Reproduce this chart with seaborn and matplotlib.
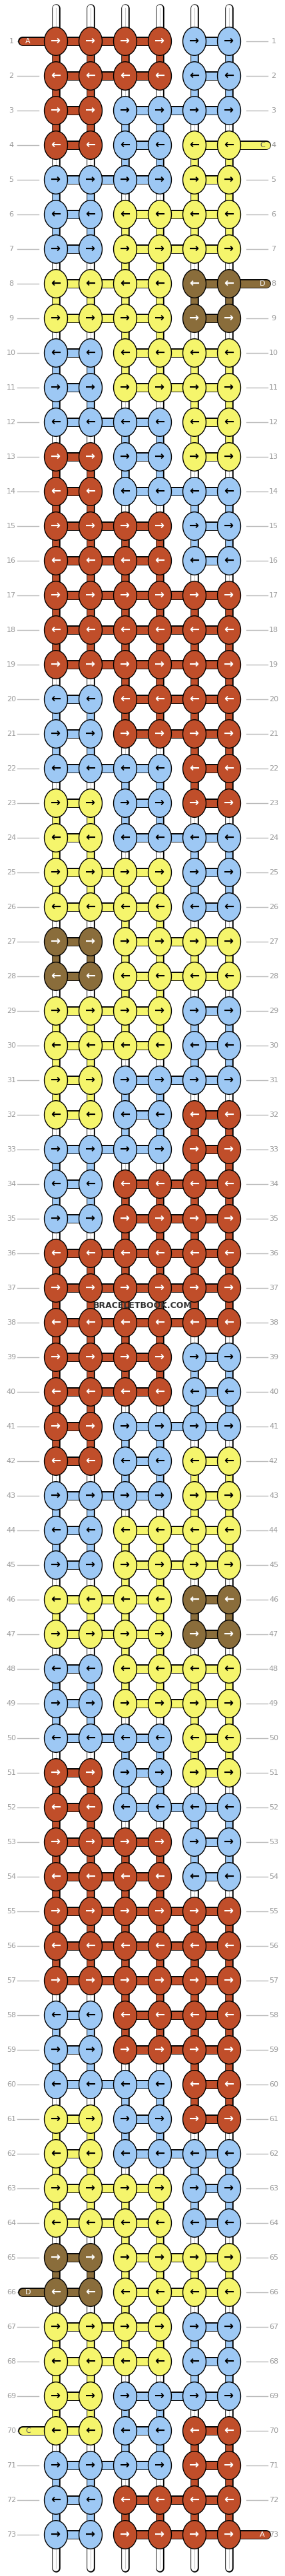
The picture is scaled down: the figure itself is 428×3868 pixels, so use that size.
import numpy as np
import pandas as pd
import matplotlib
matplotlib.use("Agg")
import matplotlib.pyplot as plt
from matplotlib.path import Path
import seaborn as sns

# knot colours per row (R red, B blue, Y yellow, N brown), rows 1..73
rows = [
    "RRRRBB", "RRRRBB", "RRBBBB", "RRBBYY", "BBBBYY", "BBYYYY", "BBYYYY", "YYYYNN",
    "YYYYNN", "BBYYYY", "BBYYYY", "BBBBYY", "RRBBYY", "RRBBBB", "RRRRBB", "RRRRBB",
    "RRRRRR", "RRRRRR", "RRRRRR", "BBRRRR", "BBRRRR", "BBBBRR", "YYBBRR", "YYBBBB",
    "YYYYBB", "YYYYBB", "NNYYYY", "NNYYYY", "YYYYBB", "YYYYBB", "YYBBBB", "YYBBRR",
    "BBBBRR", "BBRRRR", "BBRRRR", "RRRRRR", "RRRRRR", "RRRRRR", "RRRRBB", "RRRRBB",
    "RRBBBB", "RRBBYY", "BBBBYY", "BBYYYY", "BBYYYY", "YYYYNN", "YYYYNN", "BBYYYY",
    "BBYYYY", "BBBBYY", "RRBBYY", "RRBBBB", "RRRRBB", "RRRRBB", "RRRRRR", "RRRRRR",
    "RRRRRR", "BBRRRR", "BBRRRR", "BBBBRR", "YYBBRR", "YYBBBB", "YYYYBB", "YYYYBB",
    "NNYYYY", "NNYYYY", "YYYYBB", "YYYYBB", "YYBBBB", "YYBBRR", "BBBBRR", "BBRRRR",
    "BBRRRR",
]
# string ends: (row, side, colour, label)
ends = [(1, "L", "R", "A"), (4, "R", "Y", "C"), (8, "R", "N", "D"),
        (66, "L", "N", "D"), (70, "L", "Y", "C"), (73, "R", "R", "A")]

palette = {"R": "#C04E2A", "B": "#9DC8F4", "Y": "#F5F56C", "N": "#8A6D3B"}
arrow_col = {"R": "white", "B": "black", "Y": "black", "N": "white"}

recs = []
for r, s in enumerate(rows, start=1):
    for c, k in enumerate(s):
        recs.append({"row": r, "col": c, "colour": k})
df = pd.DataFrame(recs)
n_rows = len(rows)

W, H = 428, 3868
fig = plt.figure(figsize=(W / 100, H / 100), dpi=100)
ax = fig.add_axes([0, 0, 1, 1])
sp = 52.0
ax.set_xlim(-84 / sp, (W - 84) / sp)
ax.set_ylim(1 + (H - 62) / sp, 1 - 62 / sp)
ax.axis("off")

# row guide lines and numbers
for r in range(1, n_rows + 1):
    ax.plot([-58 / sp, -0.5], [r, r], color="#bbbbbb", lw=1, zorder=0)
    ax.plot([5.5, 5 + 58 / sp], [r, r], color="#bbbbbb", lw=1, zorder=0)
    ax.text(-67 / sp, r, str(r), ha="center", va="center", color="#999999", fontsize=8)
    ax.text(5 + 67 / sp, r, str(r), ha="center", va="center", color="#999999", fontsize=8)

# top and bottom stubs
for c in range(6):
    for y0, y1 in [(1 - 50 / sp, 1), (n_rows, n_rows + 50 / sp)]:
        ax.plot([c, c], [y0, y1], color="black", lw=9, solid_capstyle="round", zorder=1)
        ax.plot([c, c], [y0, y1], color="white", lw=7, solid_capstyle="round", zorder=1)
        ax.plot([c, c], [y0, y1], color="#cccccc", lw=0.8, zorder=1)

# vertical connectors between rows
for r in range(1, n_rows):
    for c in range(6):
        a, b = rows[r - 1][c], rows[r][c]
        fc = palette[a] if a == b else "white"
        ax.plot([c, c], [r, r + 1], color="black", lw=9, zorder=1)
        ax.plot([c, c], [r, r + 1], color=fc, lw=7, zorder=1)
        if a != b:
            ax.plot([c, c], [r, r + 1], color="#cccccc", lw=0.8, zorder=1)

# horizontal connectors within rows
for r, s in enumerate(rows, start=1):
    for c in range(5):
        if s[c] == s[c + 1]:
            ax.plot([c, c + 1], [r, r], color="black", lw=10, zorder=2)
            ax.plot([c, c + 1], [r, r], color=palette[s[c]], lw=8, zorder=2)

# string ends
for r, side, k, lab in ends:
    if side == "L":
        x0, x1, xt = 34 / sp - 84 / sp, 0, 42 / sp - 84 / sp
    else:
        x0, x1, xt = 5, 5 + 56 / sp, 5 + 50 / sp
    ax.plot([x0, x1], [r, r], color="black", lw=10, solid_capstyle="round", zorder=2)
    ax.plot([x0, x1], [r, r], color=palette[k], lw=8, solid_capstyle="round", zorder=2)
    ax.text(xt, r, lab, ha="center", va="center", fontsize=8,
            color=arrow_col[k] if k != "Y" else "#555555", zorder=3)

# knots as ellipses
t = np.linspace(0, 2 * np.pi, 60)
ell = Path(np.column_stack([0.82 * np.cos(t), np.sin(t)]))
sns.scatterplot(data=df, x="col", y="row", hue="colour", palette=palette,
                marker=ell, s=940, edgecolor="black", linewidth=1,
                legend=False, ax=ax, zorder=4)

# arrows
for _, d in df.iterrows():
    ax.text(d["col"], d["row"], "→" if d["row"] % 2 == 1 else "←",
            ha="center", va="center", fontsize=13, fontweight="bold",
            color=arrow_col[d["colour"]], zorder=5)

ax.text(2.5, 37.5, "BRACELETBOOK.COM", ha="center", va="center", fontsize=9,
        fontweight="bold", color="#333333", zorder=6)

fig.savefig("out.png", dpi=100)
